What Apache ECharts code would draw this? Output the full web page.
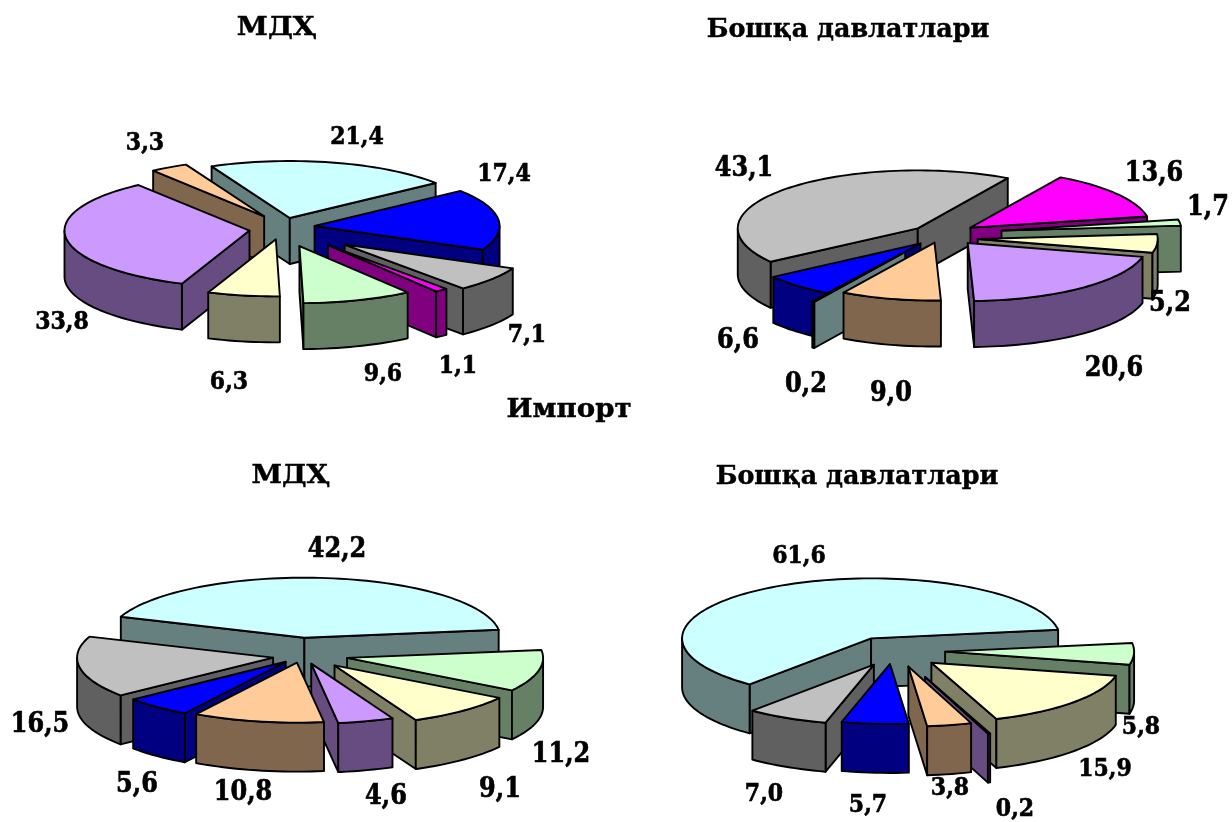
<!DOCTYPE html>
<html><head><meta charset="utf-8"><style>html,body{margin:0;padding:0;background:#fff}#c{width:1232px;height:822px}</style>
<script src="https://cdn.jsdelivr.net/npm/echarts@6/dist/echarts.min.js"></script></head>
<body><div id="c"></div><script>
// ---- data ----
var exportCisValues   = [21.4, 17.4, 7.1, 1.1, 9.6, 6.3, 33.8, 3.3];
var exportOtherValues = [13.6, 1.7, 5.2, 20.6, 9.0, 0.2, 6.6, 43.1];
var importCisValues   = [42.2, 11.2, 9.1, 4.6, 10.8, 5.6, 16.5];
var importOtherValues = [61.6, 5.8, 15.9, 0.2, 3.8, 5.7, 7.0];
var exportCisColors   = ['cyan','blue','grey','magenta','green','yellow','lilac','peach'];
var exportOtherColors = ['magenta','green','yellow','lilac','peach','cyan','blue','grey'];
var importCisColors   = ['cyan','green','yellow','lilac','peach','blue','grey'];
var importOtherColors = ['cyan','green','yellow','lilac','peach','blue','grey'];
var cisTitle = 'МДҲ', otherTitle = 'Бошқа давлатлари', importTitle = 'Импорт';

// ---- styles and layout ----
var palette = {
  cyan:['#CCFFFF','#668080'], blue:['#0000FF','#000080'], grey:['#C0C0C0','#606060'],
  magenta:['#FF00FF','#800080'], green:['#CCFFCC','#668066'], yellow:['#FFFFCC','#808066'],
  lilac:['#CC99FF','#664C80'], peach:['#FFCC99','#80664C']
};
var FONT = '"DejaVu Serif"';
var pies = [
 {values:exportCisValues, colors:exportCisColors, cx:287, cy:228, rx:185, ry:57, h:46, start:-25,
  explode:[.18,.15,.42,.38,.28,.22,.21,.24], fs:22,
  nudge:[[-5,0],[0,-1],[-4,2],[-2,0],[-4,3],[-4,-1],[1,1],[0,0]],
  labels:[[357,138],[504,175],[527,336],[458,367],[383,375],[229,383],[62,323],[145,144]]},
 {values:exportOtherValues, colors:exportOtherColors, cx:945, cy:238, rx:180, ry:58, h:46, start:30,
  explode:[.16,.3,.21,.2,.17,.4,.2,.22], fs:24,
  nudge:[[2,-5],[3,-5],[-5,0],[0,-4],[-3,-5],[-3,-6],[0,-3],[2,-1]],
  labels:[[1154,174],[1208,208],[1170,304],[1114,369],[891,394],[806,385],[738,341],[744,169]]},
 {values:importCisValues, colors:importCisColors, cx:305, cy:655, rx:196, ry:60, h:49, start:-69.5,
  explode:[.29,.22,.23,.15,.13,.15,.17], fs:24,
  nudge:[[-7,0],[0,0],[0,0],[-2,0],[-3,0],[0,0],[1,1]],
  labels:[[337,550],[561,755],[500,790],[386,797],[243,793],[137,785],[40,725]]},
 {values:importOtherValues, colors:importOtherColors, cx:893, cy:652, rx:189, ry:60, h:49, start:-140,
  explode:[.26,.26,.27,.55,.3,.2,.22], fs:22,
  nudge:[[2,0],[3,-1],[0,0],[-3,-6],[3,-3],[0,0],[0,1]],
  labels:[[799,557],[1141,728],[1105,770],[1015,810],[950,789],[868,806],[764,795]]}
];
var titles = [[cisTitle,277,28,1.17],[otherTitle,848,30,1.06],[importTitle,569,410,1.15],[cisTitle,291,476,1.15],[otherTitle,857,477,1.06]];

function slices(p){
  var sum = p.values.reduce(function(a,b){return a+b},0), a = p.start;
  return p.values.map(function(v,i){
    var s = a, e = a + v/sum*360; a = e;
    return {i:i, value:v, s:s, e:e, mid:(s+e)/2};
  });
}
function series(p){
  var sl = slices(p);
  var order = sl.slice().sort(function(a,b){
    return Math.cos(b.mid*Math.PI/180) - Math.cos(a.mid*Math.PI/180);
  });
  return {
    type:'custom', coordinateSystem:'none', silent:true, animation:false,
    data: order.map(function(d){return [d.value, d.i]}),
    renderItem:function(params, api){
      var d = sl[api.value(1)], rank = params.dataIndex;
      var m = d.mid*Math.PI/180, ex = p.explode[d.i], n = p.nudge[d.i];
      var ax = p.cx + ex*p.rx*Math.sin(m) + n[0], ay = p.cy - ex*p.ry*Math.cos(m) + n[1];
      var pt = function(deg,dz){var t=deg*Math.PI/180;return [ax+p.rx*Math.sin(t), ay-p.ry*Math.cos(t)+(dz||0)]};
      var col = palette[p.colors[d.i]];
      var kids = [];
      var poly = function(points,fill,z){
        kids.push({type:'polygon',shape:{points:points},z2:rank*10+z,
          style:{fill:fill,stroke:'#000',lineWidth:1.9,lineJoin:'round'}});
      };
      var wall = function(deg){
        var q = pt(deg);
        poly([[ax,ay],q,[q[0],q[1]+p.h],[ax,ay+p.h]],col[1],1);
      };
      if(Math.sin(d.s*Math.PI/180)<0) wall(d.s);
      if(Math.sin(d.e*Math.PI/180)>0) wall(d.e);
      for(var k=-1;k<=1;k++){
        var lo=Math.max(d.s,90+360*k), hi=Math.min(d.e,270+360*k);
        if(hi>lo){
          var top=[],bot=[];
          for(var t=lo;;t+=2){ var x=Math.min(t,hi); top.push(pt(x)); bot.unshift(pt(x,p.h)); if(t>=hi)break; }
          poly(top.concat(bot),col[1],2);
        }
      }
      var arc=[[ax,ay]];
      for(var t2=d.s;;t2+=2){ var y=Math.min(t2,d.e); arc.push(pt(y)); if(t2>=d.e)break; }
      poly(arc,col[0],3);
      var lb=p.labels[d.i];
      kids.push({type:'text',z2:1000,x:lb[0],y:lb[1],scaleY:1.13,style:{text:d.value.toFixed(1).replace('.',','),x:0,y:0,
        align:'center',verticalAlign:'middle',fill:'#000',stroke:'#000',lineWidth:.6,font:'bold '+p.fs+'px '+FONT}});
      return {type:'group',children:kids};
    }
  };
}
var chart = echarts.init(document.getElementById('c'),null,{renderer:'canvas'});
chart.setOption({
  animation:false, backgroundColor:'#fff',
  graphic:titles.map(function(t){return {type:'text',z:10,x:t[1],y:t[2],scaleX:t[3],scaleY:1.1,style:{text:t[0],x:0,y:0,align:'center',verticalAlign:'middle',fill:'#000',stroke:'#000',lineWidth:.4,font:'bold 24px '+FONT}}}),
  series:pies.map(series)
});
</script></body></html>
